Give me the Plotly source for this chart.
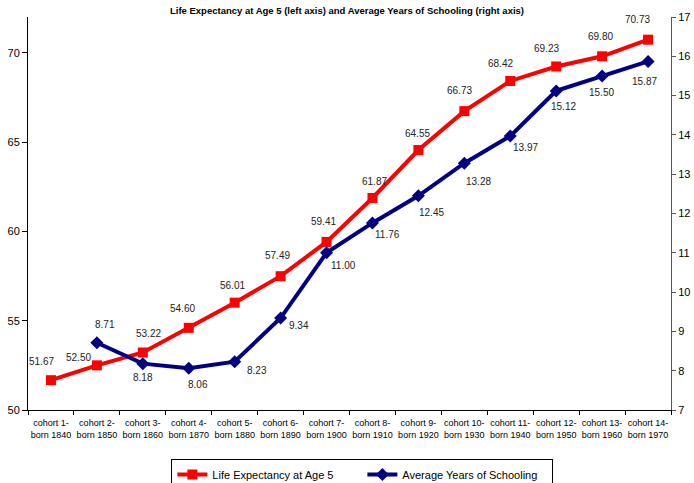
import plotly.graph_objects as go

# Birth cohorts on the category axis
cohorts = [
    "cohort 1-<br>born 1840", "cohort 2-<br>born 1850", "cohort 3-<br>born 1860",
    "cohort 4-<br>born 1870", "cohort 5-<br>born 1880", "cohort 6-<br>born 1890",
    "cohort 7-<br>born 1900", "cohort 8-<br>born 1910", "cohort 9-<br>born 1920",
    "cohort 10-<br>born 1930", "cohort 11-<br>born 1940", "cohort 12-<br>born 1950",
    "cohort 13-<br>born 1960", "cohort 14-<br>born 1970",
]

# Life expectancy at age 5 (left axis)
life_expectancy = [51.67, 52.50, 53.22, 54.60, 56.01, 57.49, 59.41,
                   61.87, 64.55, 66.73, 68.42, 69.23, 69.80, 70.73]

# Average years of schooling (right axis); first cohort has no value
schooling = [None, 8.71, 8.18, 8.06, 8.23, 9.34, 11.00,
             11.76, 12.45, 13.28, 13.97, 15.12, 15.50, 15.87]

# Pixel offsets (dx, dy) of each value label relative to its marker
le_label_offsets = [(-9, 19), (-18, 8), (6, 19), (-6, 19), (-2, 17), (-3, 21), (-3, 20),
                    (2, 16), (-1, 17), (-5, 21), (-10, 17), (-10, 18), (-2, 20), (-11, 20)]
sch_label_offsets = [(0, 0), (8, 18), (0, -14), (9, -16), (22, -9), (18, -7), (17, -13),
                     (15, -12), (13, -17), (14, -18), (15, -11), (7, -16), (-1, -17), (-4, -20)]

RED = "#FF0000"
NAVY = "#000080"
FONT = "Liberation Sans, Arial, sans-serif"

fig = go.Figure()
fig.add_trace(go.Scatter(
    x=cohorts, y=life_expectancy, name="Life Expectancy at Age 5",
    mode="lines+markers",
    line=dict(color=RED, width=4),
    marker=dict(symbol="square", size=10, color=RED),
    yaxis="y",
))
fig.add_trace(go.Scatter(
    x=cohorts, y=schooling, name="Average Years of Schooling",
    mode="lines+markers",
    line=dict(color=NAVY, width=4),
    marker=dict(symbol="diamond", size=10, color=NAVY),
    yaxis="y2",
))

annotations = []
for c, v, (dx, dy) in zip(cohorts, life_expectancy, le_label_offsets):
    annotations.append(dict(x=c, y=v, xref="x", yref="y", text=f"{v:.2f}",
                            showarrow=False, xshift=dx, yshift=dy,
                            font=dict(family=FONT, size=10, color="#222")))
for c, v, (dx, dy) in zip(cohorts, schooling, sch_label_offsets):
    if v is None:
        continue
    annotations.append(dict(x=c, y=v, xref="x", yref="y2", text=f"{v:.2f}",
                            showarrow=False, xshift=dx, yshift=dy,
                            font=dict(family=FONT, size=10, color="#222")))

fig.update_layout(
    width=694, height=483,
    margin=dict(l=28, r=23, t=17, b=73, autoexpand=False),
    paper_bgcolor="white", plot_bgcolor="white",
    font=dict(family=FONT, color="black"),
    title=dict(
        text="<b>Life Expectancy at Age 5 (left axis) and Average Years of Schooling (right axis)</b>",
        x=0.5, xanchor="center", y=0.978, yanchor="middle",
        font=dict(family=FONT, size=9.5, color="black"),
    ),
    xaxis=dict(
        type="category", range=[-0.5, 13.5], tickangle=0, automargin=False,
        showline=True, linecolor="black", linewidth=1,
        ticks="outside", tickson="boundaries", ticklen=4, tickcolor="black",
        ticklabelstandoff=4,
        showgrid=False, zeroline=False,
        tickfont=dict(family=FONT, size=9, color="black"),
    ),
    yaxis=dict(
        range=[50, 72], dtick=5, tick0=50, automargin=False,
        showline=True, linecolor="black", linewidth=1,
        ticks="outside", ticklen=5, tickcolor="black",
        showgrid=False, zeroline=False,
        tickfont=dict(family=FONT, size=11, color="black"),
    ),
    yaxis2=dict(
        range=[7, 17], dtick=1, tick0=7, automargin=False,
        overlaying="y", side="right", anchor="x",
        showline=True, linecolor="#555", linewidth=1,
        ticks="outside", ticklen=4, tickcolor="#555",
        showgrid=False, zeroline=False,
        tickfont=dict(family=FONT, size=11, color="black"),
    ),
    # inner half of the cross-style ticks on the right axis
    yaxis3=dict(
        range=[7, 17], dtick=1, tick0=7, automargin=False,
        overlaying="y", side="right", anchor="x",
        showline=False, showticklabels=False,
        ticks="inside", ticklen=4, tickcolor="#555",
        showgrid=False, zeroline=False,
    ),
    legend=dict(
        orientation="h", x=0.52, xanchor="center",
        yref="container", y=(483 - 459) / 483, yanchor="top",
        bordercolor="black", borderwidth=1, bgcolor="white",
        font=dict(family=FONT, size=11, color="black"),
        itemwidth=30, entrywidth=145,
    ),
    showlegend=True,
    annotations=annotations,
)

fig.write_html("out.html")
